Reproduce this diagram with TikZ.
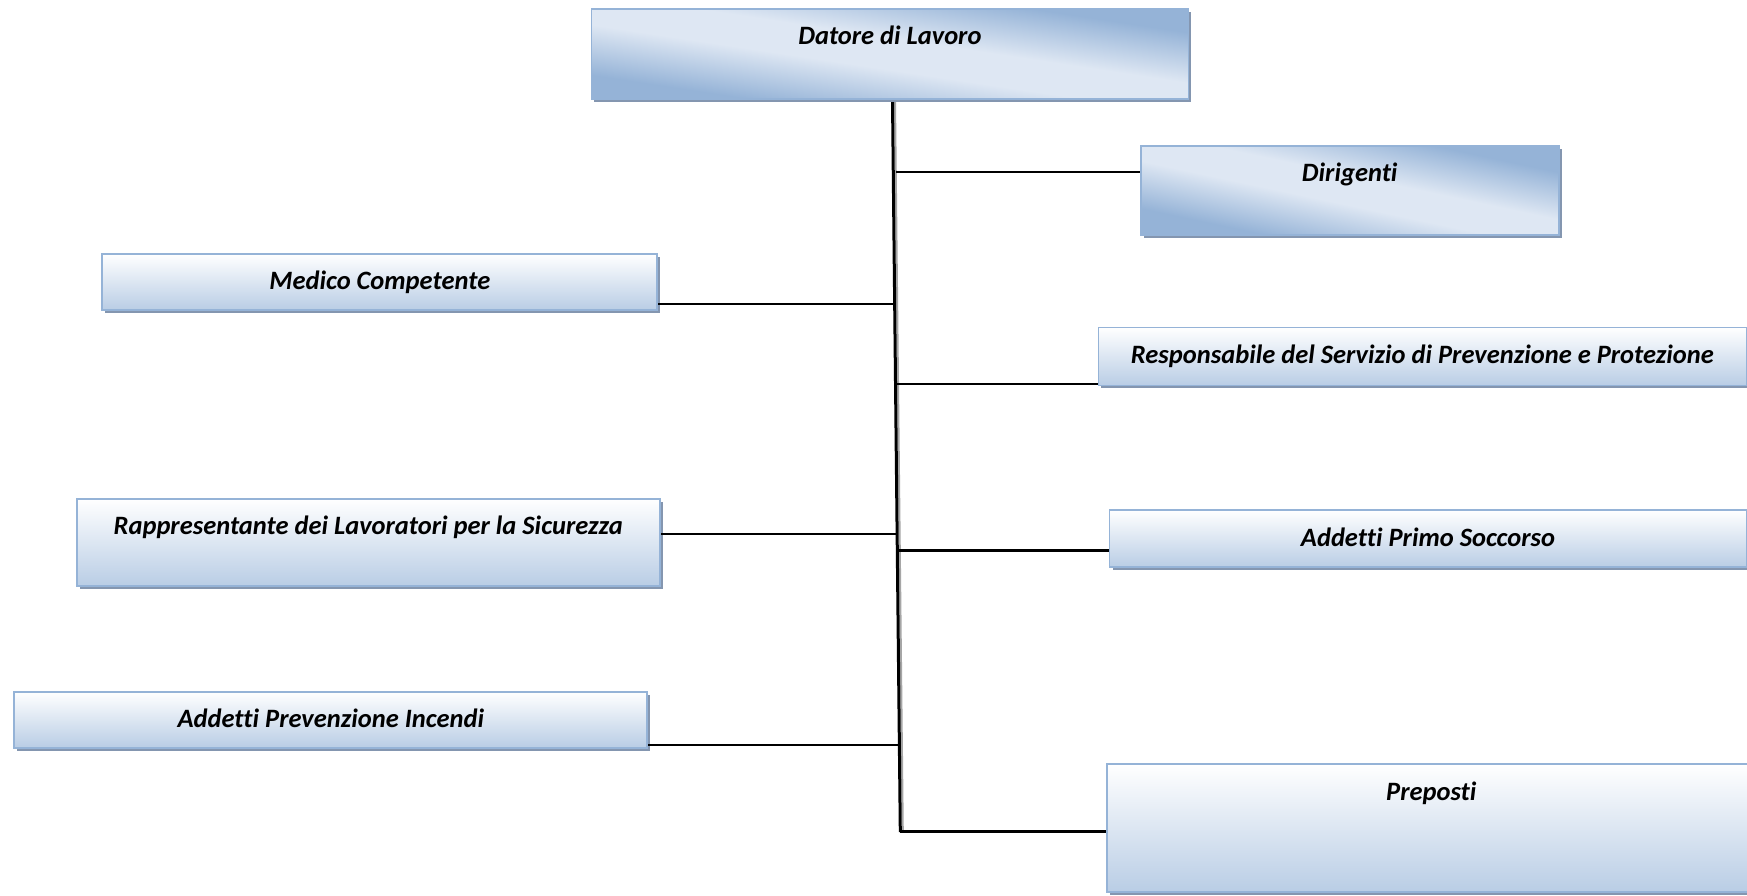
\documentclass[tikz,border=0pt]{standalone}
\usepackage{fontspec}
\setmainfont{Carlito}[Ligatures=NoCommon]
\usetikzlibrary{shadows,calc}
\definecolor{darkb}{RGB}{149,179,215}
\definecolor{lightb}{RGB}{222,231,243}
\definecolor{botb}{RGB}{185,205,229}
\definecolor{bordc}{RGB}{149,179,215}
\definecolor{shadc}{RGB}{132,150,176}
\pgfdeclarehorizontalshading{diagblue}{100bp}{color(0bp)=(darkb); color(29bp)=(darkb); color(45bp)=(lightb); color(55bp)=(lightb); color(71bp)=(darkb); color(100bp)=(darkb)}
\tikzset{
  boxbase/.style={draw=bordc, line width=1.8pt, inner xsep=4pt, inner ysep=0pt,
    anchor=north west, font=\fontsize{26.5}{30}\selectfont\bfseries\itshape,
    text height=36pt,
    drop shadow={shadow xshift=3pt, shadow yshift=-3pt, fill=shadc, opacity=1}},
  vbox/.style={boxbase, top color=white, bottom color=botb},
  dbox/.style={boxbase, shading=diagblue, shading angle=#1},
  dims/.style 2 args={minimum width=#1pt, minimum height=#2pt, text depth=#2pt-36pt},
  conn/.style={line width=2pt, black},
  connb/.style={line width=3pt, black},
  trunk/.style={line width=3pt, black},
  trunkshadow/.style={line width=2pt, black!35},
}
\begin{document}
\begin{tikzpicture}[x=1pt,y=-1pt]
\fill[white] (0,0) rectangle (1747,895);
\useasboundingbox (0,0) rectangle (1747,895);
\clip (0,0) rectangle (1747,895);
% trunk
\coordinate (vtop) at (892.5,101);
\coordinate (vbot) at (900.3,832);
\draw[trunkshadow] ($(vtop)+(2.5,0)$) -- ($(vbot)+(2.5,0)$);
\draw[trunk] (vtop) -- (vbot);
% boxes
\node[dbox=81.4, dims={597}{90}] (dat) at (590.5,7.8) {Datore di Lavoro};
\node[dbox=78, dims={418}{89}] (dir) at (1139.8,144.8) {Dirigenti};
\node[vbox, dims={555}{56}] (med) at (101.4,252.9) {Medico Competente};
\node[vbox, dims={648}{58}] (rspp) at (1097.5,326.5) {Responsabile del Servizio di Prevenzione e Protezione};
\node[vbox, dims={583}{87}] (rls) at (75.8,498) {Rappresentante dei Lavoratori per la Sicurezza};
\node[vbox, dims={637}{57}] (aps) at (1108.6,509.2) {Addetti Primo Soccorso};
\node[vbox, dims={633}{56}] (api) at (13.4,690.8) {Addetti Prevenzione Incendi};
\node[vbox, dims={648}{128}] (pre) at (1106.4,763.2) {Preposti};
% junctions on the trunk
\coordinate (jdir) at (895.8,171.6);
\coordinate (jmed) at (893.6,304.2);
\coordinate (jrspp) at (895.8,384.4);
\coordinate (jrls) at (897,533.7);
\coordinate (japs) at (898,550.4);
\coordinate (japi) at (898,745.4);
\coordinate (jpre) at (900.3,831.2);
% connectors
\draw[conn] (jdir) -- (dir.west |- jdir);
\draw[conn] (jmed) -- (med.east |- jmed);
\draw[conn] (jrspp) -- (rspp.west |- jrspp);
\draw[conn] (jrls) -- (rls.east |- jrls);
\draw[connb] (japs) -- (aps.west |- japs);
\draw[conn] (japi) -- (api.east |- japi);
\draw[connb] (jpre) -- (pre.west |- jpre);
\end{tikzpicture}
\end{document}
